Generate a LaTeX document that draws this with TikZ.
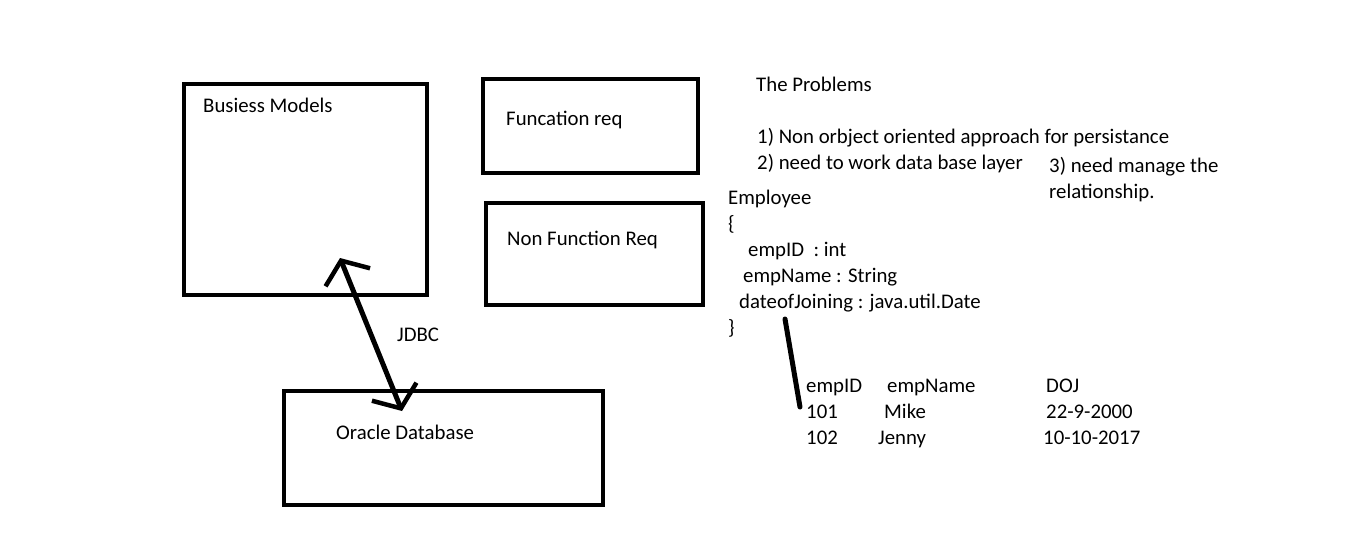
\documentclass[tikz,border=0pt]{standalone}
\usepackage{fontspec}
\setmainfont{Carlito}
\usetikzlibrary{arrows.meta}
\tikzset{
  box/.style={line width=4.5pt},
  txt/.style={anchor=base west,inner sep=0pt,font=\fontsize{20.8}{24}\selectfont},
  stroke/.style={line width=5pt,line cap=round},
  barb/.tip={Straight Barb[length=18pt,width=48pt,line width=4.5pt]}
}
\begin{document}
\begin{tikzpicture}[x=1pt,y=-1pt]
  \useasboundingbox[fill=white] (0,0) rectangle (1360,549);
  % boxes
  \draw[box] (184,84) rectangle (427,295);
  \node[txt] (models) at (203,112) {Busiess Models};
  \draw[box] (483,79) rectangle (698,173);
  \node[txt] (funreq) at (506,125) {Funcation req};
  \draw[box] (486,203) rectangle (703,305);
  \node[txt] (nonfunreq) at (507,245) {Non Function Req};
  \draw[box] (284,391) rectangle (603,505);
  \node[txt] (oracle) at (336,439) {Oracle Database};
  % jdbc link
  \coordinate (jdbctop) at (340,258);
  \coordinate (jdbcbot) at (402,411);
  \draw[stroke,barb-barb] (jdbctop) -- (jdbcbot);
  \node[txt] (jdbc) at (397,341) {JDBC};
  % problems
  \node[txt] (problems) at (756,91) {The Problems};
  \node[txt] (prob1) at (757,143) {1) Non orbject oriented approach for persistance};
  \node[txt] (prob2) at (757,169) {2) need to work data base layer};
  \node[txt] (prob3) at (1049,172) {3) need manage the};
  \node[txt] (prob3b) at (1049,198) {relationship.};
  % class
  \node[txt] (cls) at (728,204) {Employee};
  \node[txt] (open) at (728,230) {\{};
  \node[txt] (fid) at (748,256) {empID\ \ : int};
  \node[txt] (fname) at (743,282) {empName : String};
  \node[txt] (fdoj) at (739,308) {dateofJoining : java.util.Date};
  \node[txt] (close) at (728,334) {\}};
  % table
  \node[txt] (hid) at (806,392) {empID};
  \node[txt] (hname) at (887,392) {empName};
  \node[txt] (hdoj) at (1046,392) {DOJ};
  \node[txt] (id1) at (806,418) {101};
  \node[txt] (name1) at (884,418) {Mike};
  \node[txt] (doj1) at (1046,418) {22-9-2000};
  \node[txt] (id2) at (806,444) {102};
  \node[txt] (name2) at (878,444) {Jenny};
  \node[txt] (doj2) at (1043,444) {10-10-2017};
  % mapping stroke
  \coordinate (maptop) at (785,319);
  \coordinate (mapbot) at (800,407);
  \draw[stroke] (maptop) -- (mapbot);
\end{tikzpicture}
\end{document}
